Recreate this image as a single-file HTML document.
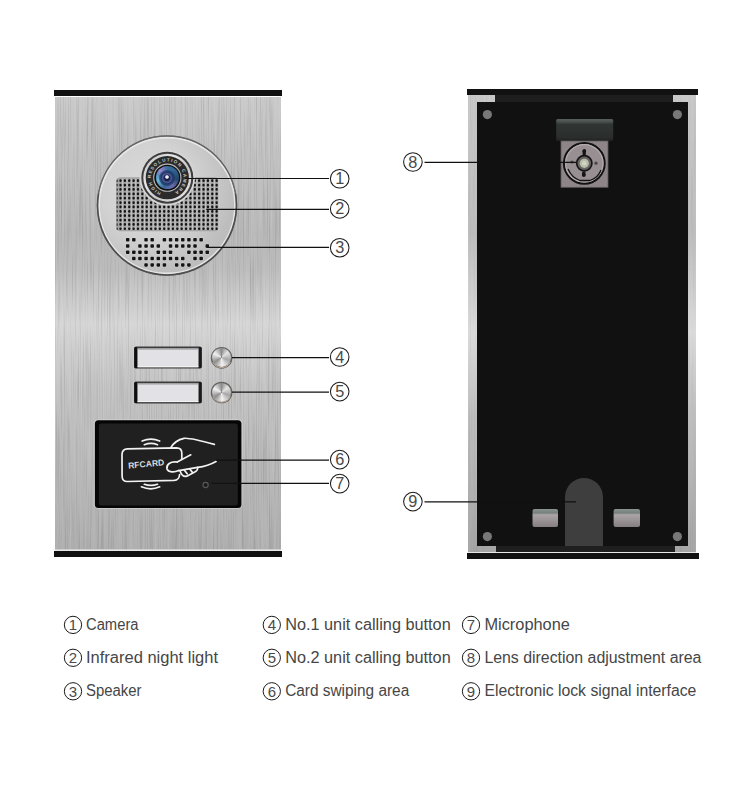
<!DOCTYPE html>
<html><head><meta charset="utf-8">
<style>
html,body{margin:0;padding:0;background:#fff;}
body{width:750px;height:800px;overflow:hidden;position:relative;}
svg{display:block;font-family:"Liberation Sans",sans-serif;position:absolute;left:0;top:0;}
.btn{position:absolute;width:19px;height:19px;border-radius:50%;
 background:conic-gradient(from 0deg,#8c8c8c 0deg,#e4e4e4 50deg,#a6a6a6 110deg,#f2f2f2 175deg,#8e8e8e 235deg,#f0f0f0 300deg,#8c8c8c 360deg);}
.lensr{position:absolute;width:23px;height:23px;border-radius:50%;
 background:conic-gradient(from 0deg,#3a6e9a 0deg,#2f6494 40deg,#24486e 100deg,#6e6cb0 150deg,#3a6898 200deg,#6ab8d8 250deg,#5a90c0 285deg,#9a86d0 315deg,#3a6e9a 360deg);}
.lensc{position:absolute;border-radius:50%;}
</style></head><body>
<svg width="750" height="800" viewBox="0 0 750 800">
<defs>
 <linearGradient id="panel" x1="0" y1="97" x2="0" y2="550" gradientUnits="userSpaceOnUse">
  <stop offset="0" stop-color="#cacaca"/>
  <stop offset="0.12" stop-color="#c2c2c2"/>
  <stop offset="0.30" stop-color="#b8b8b8"/>
  <stop offset="0.38" stop-color="#bcbcbc"/>
  <stop offset="0.50" stop-color="#d6d6d6"/>
  <stop offset="0.64" stop-color="#c3c3c3"/>
  <stop offset="0.78" stop-color="#bababa"/>
  <stop offset="1" stop-color="#afafaf"/>
 </linearGradient>
 <linearGradient id="rearside" x1="0" y1="95" x2="0" y2="552" gradientUnits="userSpaceOnUse">
  <stop offset="0" stop-color="#c8c8c8"/>
  <stop offset="0.3" stop-color="#bcbcbc"/>
  <stop offset="0.52" stop-color="#dadada"/>
  <stop offset="0.7" stop-color="#bdbdbd"/>
  <stop offset="1" stop-color="#a6a6a6"/>
 </linearGradient>
 <radialGradient id="discg" cx="150" cy="190" r="85" gradientUnits="userSpaceOnUse">
  <stop offset="0" stop-color="#dadada"/>
  <stop offset="0.55" stop-color="#d2d2d2"/>
  <stop offset="1" stop-color="#bdbdbd"/>
 </radialGradient>
 <linearGradient id="clip" x1="0" y1="0" x2="0" y2="1">
  <stop offset="0" stop-color="#8a9591"/>
  <stop offset="0.22" stop-color="#75807c"/>
  <stop offset="0.32" stop-color="#aaa4a6"/>
  <stop offset="1" stop-color="#857f82"/>
 </linearGradient>
 <linearGradient id="bracktop" x1="0" y1="0" x2="0" y2="1">
  <stop offset="0" stop-color="#58605e"/>
  <stop offset="0.12" stop-color="#4a514f"/>
  <stop offset="0.25" stop-color="#303534"/>
  <stop offset="0.85" stop-color="#2a2d2c"/>
  <stop offset="1" stop-color="#1e201f"/>
 </linearGradient>
 <linearGradient id="silring" x1="0" y1="0" x2="1" y2="1">
  <stop offset="0" stop-color="#bdbdbd"/>
  <stop offset="0.35" stop-color="#e8e8e8"/>
  <stop offset="0.6" stop-color="#c8c8c8"/>
  <stop offset="1" stop-color="#ededed"/>
 </linearGradient>
 <filter id="brush" x="0" y="0" width="1" height="1" color-interpolation-filters="sRGB">
  <feTurbulence type="fractalNoise" baseFrequency="0.85 0.012" numOctaves="2" seed="3" result="n"/>
  <feColorMatrix in="n" type="matrix" values="0 0 0 0 0  0 0 0 0 0  0 0 0 0 0  0 0 0 -0.3 0.15" result="dark"/>
  <feColorMatrix in="n" type="matrix" values="0 0 0 0 1  0 0 0 0 1  0 0 0 0 1  0 0 0 0.3 -0.15" result="light"/>
  <feMerge><feMergeNode in="dark"/><feMergeNode in="light"/></feMerge>
 </filter>
 <path id="ringpath" d="M 167.3 194.0 A 16.3 16.3 0 1 1 167.31 194.0"/>
</defs>
<rect width="750" height="800" fill="#fff"/>

<!-- FRONT PANEL -->
<rect x="54" y="90" width="228" height="6" fill="#111"/>
<rect x="55" y="97" width="226" height="453" fill="url(#panel)"/>
<rect x="55" y="97" width="226" height="453" filter="url(#brush)" opacity="1"/>
<rect x="55" y="549" width="226" height="1.5" fill="#cfcfcf"/>
<rect x="54" y="551" width="228" height="6" fill="#111"/>

<!-- camera disc -->
<circle cx="167" cy="205.5" r="70.3" fill="#6a6a6a"/>
<circle cx="167" cy="205.5" r="69.2" fill="url(#discg)"/>
<circle cx="167" cy="205.5" r="67.9" fill="none" stroke="#ececec" stroke-width="1.6" opacity="0.85"/><path d="M235.35 193.45 A69.4 69.4 0 1 1 98.65 193.45" fill="none" stroke="#4e4e4e" stroke-width="1.5"/><path d="M98.65 193.45 A69.4 69.4 0 0 1 235.35 193.45" fill="none" stroke="#666" stroke-width="1.1"/>
<rect x="116" y="177.2" width="103" height="54" rx="4.5" fill="#a4a4a4"/><g fill="#e6e6e6" opacity="0.5"><rect x="122.10" y="178.5" width="1.0" height="51.5"/><rect x="126.47" y="178.5" width="1.0" height="51.5"/><rect x="130.84" y="178.5" width="1.0" height="51.5"/><rect x="135.21" y="178.5" width="1.0" height="51.5"/><rect x="139.58" y="178.5" width="1.0" height="51.5"/><rect x="143.95" y="178.5" width="1.0" height="51.5"/><rect x="148.32" y="178.5" width="1.0" height="51.5"/><rect x="152.69" y="178.5" width="1.0" height="51.5"/><rect x="157.06" y="178.5" width="1.0" height="51.5"/><rect x="161.43" y="178.5" width="1.0" height="51.5"/><rect x="165.80" y="178.5" width="1.0" height="51.5"/><rect x="170.17" y="178.5" width="1.0" height="51.5"/><rect x="174.54" y="178.5" width="1.0" height="51.5"/><rect x="178.91" y="178.5" width="1.0" height="51.5"/><rect x="183.28" y="178.5" width="1.0" height="51.5"/><rect x="187.65" y="178.5" width="1.0" height="51.5"/><rect x="192.02" y="178.5" width="1.0" height="51.5"/><rect x="196.39" y="178.5" width="1.0" height="51.5"/><rect x="200.76" y="178.5" width="1.0" height="51.5"/><rect x="205.13" y="178.5" width="1.0" height="51.5"/><rect x="209.50" y="178.5" width="1.0" height="51.5"/><rect x="213.87" y="178.5" width="1.0" height="51.5"/><rect x="218.24" y="178.5" width="1.0" height="51.5"/></g>
<g></g>
<g fill="#151515"><rect x="119.35" y="179.35" width="2.3" height="2.7" rx="1"/><rect x="123.72" y="179.35" width="2.3" height="2.7" rx="1"/><rect x="128.09" y="179.35" width="2.3" height="2.7" rx="1"/><rect x="132.46" y="179.35" width="2.3" height="2.7" rx="1"/><rect x="136.83" y="179.35" width="2.3" height="2.7" rx="1"/><rect x="141.20" y="179.35" width="2.3" height="2.7" rx="1"/><rect x="145.57" y="179.35" width="2.3" height="2.7" rx="1"/><rect x="149.94" y="179.35" width="2.3" height="2.7" rx="1"/><rect x="154.31" y="179.35" width="2.3" height="2.7" rx="1"/><rect x="158.68" y="179.35" width="2.3" height="2.7" rx="1"/><rect x="163.05" y="179.35" width="2.3" height="2.7" rx="1"/><rect x="167.42" y="179.35" width="2.3" height="2.7" rx="1"/><rect x="171.79" y="179.35" width="2.3" height="2.7" rx="1"/><rect x="176.16" y="179.35" width="2.3" height="2.7" rx="1"/><rect x="180.53" y="179.35" width="2.3" height="2.7" rx="1"/><rect x="184.90" y="179.35" width="2.3" height="2.7" rx="1"/><rect x="189.27" y="179.35" width="2.3" height="2.7" rx="1"/><rect x="193.64" y="179.35" width="2.3" height="2.7" rx="1"/><rect x="198.01" y="179.35" width="2.3" height="2.7" rx="1"/><rect x="202.38" y="179.35" width="2.3" height="2.7" rx="1"/><rect x="206.75" y="179.35" width="2.3" height="2.7" rx="1"/><rect x="211.12" y="179.35" width="2.3" height="2.7" rx="1"/><rect x="215.49" y="179.35" width="2.3" height="2.7" rx="1"/><rect x="116.6" y="179.45" width="1.3" height="2.5" rx="0.5" opacity="0.7"/><rect x="119.35" y="183.72" width="2.3" height="2.7" rx="1"/><rect x="123.72" y="183.72" width="2.3" height="2.7" rx="1"/><rect x="128.09" y="183.72" width="2.3" height="2.7" rx="1"/><rect x="132.46" y="183.72" width="2.3" height="2.7" rx="1"/><rect x="136.83" y="183.72" width="2.3" height="2.7" rx="1"/><rect x="141.20" y="183.72" width="2.3" height="2.7" rx="1"/><rect x="145.57" y="183.72" width="2.3" height="2.7" rx="1"/><rect x="149.94" y="183.72" width="2.3" height="2.7" rx="1"/><rect x="154.31" y="183.72" width="2.3" height="2.7" rx="1"/><rect x="158.68" y="183.72" width="2.3" height="2.7" rx="1"/><rect x="163.05" y="183.72" width="2.3" height="2.7" rx="1"/><rect x="167.42" y="183.72" width="2.3" height="2.7" rx="1"/><rect x="171.79" y="183.72" width="2.3" height="2.7" rx="1"/><rect x="176.16" y="183.72" width="2.3" height="2.7" rx="1"/><rect x="180.53" y="183.72" width="2.3" height="2.7" rx="1"/><rect x="184.90" y="183.72" width="2.3" height="2.7" rx="1"/><rect x="189.27" y="183.72" width="2.3" height="2.7" rx="1"/><rect x="193.64" y="183.72" width="2.3" height="2.7" rx="1"/><rect x="198.01" y="183.72" width="2.3" height="2.7" rx="1"/><rect x="202.38" y="183.72" width="2.3" height="2.7" rx="1"/><rect x="206.75" y="183.72" width="2.3" height="2.7" rx="1"/><rect x="211.12" y="183.72" width="2.3" height="2.7" rx="1"/><rect x="215.49" y="183.72" width="2.3" height="2.7" rx="1"/><rect x="116.6" y="183.82" width="1.3" height="2.5" rx="0.5" opacity="0.7"/><rect x="119.35" y="188.09" width="2.3" height="2.7" rx="1"/><rect x="123.72" y="188.09" width="2.3" height="2.7" rx="1"/><rect x="128.09" y="188.09" width="2.3" height="2.7" rx="1"/><rect x="132.46" y="188.09" width="2.3" height="2.7" rx="1"/><rect x="136.83" y="188.09" width="2.3" height="2.7" rx="1"/><rect x="141.20" y="188.09" width="2.3" height="2.7" rx="1"/><rect x="145.57" y="188.09" width="2.3" height="2.7" rx="1"/><rect x="149.94" y="188.09" width="2.3" height="2.7" rx="1"/><rect x="154.31" y="188.09" width="2.3" height="2.7" rx="1"/><rect x="158.68" y="188.09" width="2.3" height="2.7" rx="1"/><rect x="163.05" y="188.09" width="2.3" height="2.7" rx="1"/><rect x="167.42" y="188.09" width="2.3" height="2.7" rx="1"/><rect x="171.79" y="188.09" width="2.3" height="2.7" rx="1"/><rect x="176.16" y="188.09" width="2.3" height="2.7" rx="1"/><rect x="180.53" y="188.09" width="2.3" height="2.7" rx="1"/><rect x="184.90" y="188.09" width="2.3" height="2.7" rx="1"/><rect x="189.27" y="188.09" width="2.3" height="2.7" rx="1"/><rect x="193.64" y="188.09" width="2.3" height="2.7" rx="1"/><rect x="198.01" y="188.09" width="2.3" height="2.7" rx="1"/><rect x="202.38" y="188.09" width="2.3" height="2.7" rx="1"/><rect x="206.75" y="188.09" width="2.3" height="2.7" rx="1"/><rect x="211.12" y="188.09" width="2.3" height="2.7" rx="1"/><rect x="215.49" y="188.09" width="2.3" height="2.7" rx="1"/><rect x="116.6" y="188.19" width="1.3" height="2.5" rx="0.5" opacity="0.7"/><rect x="119.35" y="192.46" width="2.3" height="2.7" rx="1"/><rect x="123.72" y="192.46" width="2.3" height="2.7" rx="1"/><rect x="128.09" y="192.46" width="2.3" height="2.7" rx="1"/><rect x="132.46" y="192.46" width="2.3" height="2.7" rx="1"/><rect x="136.83" y="192.46" width="2.3" height="2.7" rx="1"/><rect x="141.20" y="192.46" width="2.3" height="2.7" rx="1"/><rect x="145.57" y="192.46" width="2.3" height="2.7" rx="1"/><rect x="149.94" y="192.46" width="2.3" height="2.7" rx="1"/><rect x="154.31" y="192.46" width="2.3" height="2.7" rx="1"/><rect x="158.68" y="192.46" width="2.3" height="2.7" rx="1"/><rect x="163.05" y="192.46" width="2.3" height="2.7" rx="1"/><rect x="167.42" y="192.46" width="2.3" height="2.7" rx="1"/><rect x="171.79" y="192.46" width="2.3" height="2.7" rx="1"/><rect x="176.16" y="192.46" width="2.3" height="2.7" rx="1"/><rect x="180.53" y="192.46" width="2.3" height="2.7" rx="1"/><rect x="184.90" y="192.46" width="2.3" height="2.7" rx="1"/><rect x="189.27" y="192.46" width="2.3" height="2.7" rx="1"/><rect x="193.64" y="192.46" width="2.3" height="2.7" rx="1"/><rect x="198.01" y="192.46" width="2.3" height="2.7" rx="1"/><rect x="202.38" y="192.46" width="2.3" height="2.7" rx="1"/><rect x="206.75" y="192.46" width="2.3" height="2.7" rx="1"/><rect x="211.12" y="192.46" width="2.3" height="2.7" rx="1"/><rect x="215.49" y="192.46" width="2.3" height="2.7" rx="1"/><rect x="116.6" y="192.56" width="1.3" height="2.5" rx="0.5" opacity="0.7"/><rect x="119.35" y="196.83" width="2.3" height="2.7" rx="1"/><rect x="123.72" y="196.83" width="2.3" height="2.7" rx="1"/><rect x="128.09" y="196.83" width="2.3" height="2.7" rx="1"/><rect x="132.46" y="196.83" width="2.3" height="2.7" rx="1"/><rect x="136.83" y="196.83" width="2.3" height="2.7" rx="1"/><rect x="141.20" y="196.83" width="2.3" height="2.7" rx="1"/><rect x="145.57" y="196.83" width="2.3" height="2.7" rx="1"/><rect x="149.94" y="196.83" width="2.3" height="2.7" rx="1"/><rect x="154.31" y="196.83" width="2.3" height="2.7" rx="1"/><rect x="158.68" y="196.83" width="2.3" height="2.7" rx="1"/><rect x="163.05" y="196.83" width="2.3" height="2.7" rx="1"/><rect x="167.42" y="196.83" width="2.3" height="2.7" rx="1"/><rect x="171.79" y="196.83" width="2.3" height="2.7" rx="1"/><rect x="176.16" y="196.83" width="2.3" height="2.7" rx="1"/><rect x="180.53" y="196.83" width="2.3" height="2.7" rx="1"/><rect x="184.90" y="196.83" width="2.3" height="2.7" rx="1"/><rect x="189.27" y="196.83" width="2.3" height="2.7" rx="1"/><rect x="193.64" y="196.83" width="2.3" height="2.7" rx="1"/><rect x="198.01" y="196.83" width="2.3" height="2.7" rx="1"/><rect x="202.38" y="196.83" width="2.3" height="2.7" rx="1"/><rect x="206.75" y="196.83" width="2.3" height="2.7" rx="1"/><rect x="211.12" y="196.83" width="2.3" height="2.7" rx="1"/><rect x="215.49" y="196.83" width="2.3" height="2.7" rx="1"/><rect x="116.6" y="196.93" width="1.3" height="2.5" rx="0.5" opacity="0.7"/><rect x="119.35" y="201.20" width="2.3" height="2.7" rx="1"/><rect x="123.72" y="201.20" width="2.3" height="2.7" rx="1"/><rect x="128.09" y="201.20" width="2.3" height="2.7" rx="1"/><rect x="132.46" y="201.20" width="2.3" height="2.7" rx="1"/><rect x="136.83" y="201.20" width="2.3" height="2.7" rx="1"/><rect x="141.20" y="201.20" width="2.3" height="2.7" rx="1"/><rect x="145.57" y="201.20" width="2.3" height="2.7" rx="1"/><rect x="149.94" y="201.20" width="2.3" height="2.7" rx="1"/><rect x="154.31" y="201.20" width="2.3" height="2.7" rx="1"/><rect x="158.68" y="201.20" width="2.3" height="2.7" rx="1"/><rect x="163.05" y="201.20" width="2.3" height="2.7" rx="1"/><rect x="167.42" y="201.20" width="2.3" height="2.7" rx="1"/><rect x="171.79" y="201.20" width="2.3" height="2.7" rx="1"/><rect x="176.16" y="201.20" width="2.3" height="2.7" rx="1"/><rect x="180.53" y="201.20" width="2.3" height="2.7" rx="1"/><rect x="184.90" y="201.20" width="2.3" height="2.7" rx="1"/><rect x="189.27" y="201.20" width="2.3" height="2.7" rx="1"/><rect x="193.64" y="201.20" width="2.3" height="2.7" rx="1"/><rect x="198.01" y="201.20" width="2.3" height="2.7" rx="1"/><rect x="202.38" y="201.20" width="2.3" height="2.7" rx="1"/><rect x="206.75" y="201.20" width="2.3" height="2.7" rx="1"/><rect x="211.12" y="201.20" width="2.3" height="2.7" rx="1"/><rect x="215.49" y="201.20" width="2.3" height="2.7" rx="1"/><rect x="116.6" y="201.30" width="1.3" height="2.5" rx="0.5" opacity="0.7"/><rect x="119.35" y="205.57" width="2.3" height="2.7" rx="1"/><rect x="123.72" y="205.57" width="2.3" height="2.7" rx="1"/><rect x="128.09" y="205.57" width="2.3" height="2.7" rx="1"/><rect x="132.46" y="205.57" width="2.3" height="2.7" rx="1"/><rect x="136.83" y="205.57" width="2.3" height="2.7" rx="1"/><rect x="141.20" y="205.57" width="2.3" height="2.7" rx="1"/><rect x="145.57" y="205.57" width="2.3" height="2.7" rx="1"/><rect x="149.94" y="205.57" width="2.3" height="2.7" rx="1"/><rect x="154.31" y="205.57" width="2.3" height="2.7" rx="1"/><rect x="158.68" y="205.57" width="2.3" height="2.7" rx="1"/><rect x="163.05" y="205.57" width="2.3" height="2.7" rx="1"/><rect x="167.42" y="205.57" width="2.3" height="2.7" rx="1"/><rect x="171.79" y="205.57" width="2.3" height="2.7" rx="1"/><rect x="176.16" y="205.57" width="2.3" height="2.7" rx="1"/><rect x="180.53" y="205.57" width="2.3" height="2.7" rx="1"/><rect x="184.90" y="205.57" width="2.3" height="2.7" rx="1"/><rect x="189.27" y="205.57" width="2.3" height="2.7" rx="1"/><rect x="193.64" y="205.57" width="2.3" height="2.7" rx="1"/><rect x="198.01" y="205.57" width="2.3" height="2.7" rx="1"/><rect x="202.38" y="205.57" width="2.3" height="2.7" rx="1"/><rect x="206.75" y="205.57" width="2.3" height="2.7" rx="1"/><rect x="211.12" y="205.57" width="2.3" height="2.7" rx="1"/><rect x="215.49" y="205.57" width="2.3" height="2.7" rx="1"/><rect x="116.6" y="205.67" width="1.3" height="2.5" rx="0.5" opacity="0.7"/><rect x="119.35" y="209.94" width="2.3" height="2.7" rx="1"/><rect x="123.72" y="209.94" width="2.3" height="2.7" rx="1"/><rect x="128.09" y="209.94" width="2.3" height="2.7" rx="1"/><rect x="132.46" y="209.94" width="2.3" height="2.7" rx="1"/><rect x="136.83" y="209.94" width="2.3" height="2.7" rx="1"/><rect x="141.20" y="209.94" width="2.3" height="2.7" rx="1"/><rect x="145.57" y="209.94" width="2.3" height="2.7" rx="1"/><rect x="149.94" y="209.94" width="2.3" height="2.7" rx="1"/><rect x="154.31" y="209.94" width="2.3" height="2.7" rx="1"/><rect x="158.68" y="209.94" width="2.3" height="2.7" rx="1"/><rect x="163.05" y="209.94" width="2.3" height="2.7" rx="1"/><rect x="167.42" y="209.94" width="2.3" height="2.7" rx="1"/><rect x="171.79" y="209.94" width="2.3" height="2.7" rx="1"/><rect x="176.16" y="209.94" width="2.3" height="2.7" rx="1"/><rect x="180.53" y="209.94" width="2.3" height="2.7" rx="1"/><rect x="184.90" y="209.94" width="2.3" height="2.7" rx="1"/><rect x="189.27" y="209.94" width="2.3" height="2.7" rx="1"/><rect x="193.64" y="209.94" width="2.3" height="2.7" rx="1"/><rect x="198.01" y="209.94" width="2.3" height="2.7" rx="1"/><rect x="202.38" y="209.94" width="2.3" height="2.7" rx="1"/><rect x="206.75" y="209.94" width="2.3" height="2.7" rx="1"/><rect x="211.12" y="209.94" width="2.3" height="2.7" rx="1"/><rect x="215.49" y="209.94" width="2.3" height="2.7" rx="1"/><rect x="116.6" y="210.04" width="1.3" height="2.5" rx="0.5" opacity="0.7"/><rect x="119.35" y="214.31" width="2.3" height="2.7" rx="1"/><rect x="123.72" y="214.31" width="2.3" height="2.7" rx="1"/><rect x="128.09" y="214.31" width="2.3" height="2.7" rx="1"/><rect x="132.46" y="214.31" width="2.3" height="2.7" rx="1"/><rect x="136.83" y="214.31" width="2.3" height="2.7" rx="1"/><rect x="141.20" y="214.31" width="2.3" height="2.7" rx="1"/><rect x="145.57" y="214.31" width="2.3" height="2.7" rx="1"/><rect x="149.94" y="214.31" width="2.3" height="2.7" rx="1"/><rect x="154.31" y="214.31" width="2.3" height="2.7" rx="1"/><rect x="158.68" y="214.31" width="2.3" height="2.7" rx="1"/><rect x="163.05" y="214.31" width="2.3" height="2.7" rx="1"/><rect x="167.42" y="214.31" width="2.3" height="2.7" rx="1"/><rect x="171.79" y="214.31" width="2.3" height="2.7" rx="1"/><rect x="176.16" y="214.31" width="2.3" height="2.7" rx="1"/><rect x="180.53" y="214.31" width="2.3" height="2.7" rx="1"/><rect x="184.90" y="214.31" width="2.3" height="2.7" rx="1"/><rect x="189.27" y="214.31" width="2.3" height="2.7" rx="1"/><rect x="193.64" y="214.31" width="2.3" height="2.7" rx="1"/><rect x="198.01" y="214.31" width="2.3" height="2.7" rx="1"/><rect x="202.38" y="214.31" width="2.3" height="2.7" rx="1"/><rect x="206.75" y="214.31" width="2.3" height="2.7" rx="1"/><rect x="211.12" y="214.31" width="2.3" height="2.7" rx="1"/><rect x="215.49" y="214.31" width="2.3" height="2.7" rx="1"/><rect x="116.6" y="214.41" width="1.3" height="2.5" rx="0.5" opacity="0.7"/><rect x="119.35" y="218.68" width="2.3" height="2.7" rx="1"/><rect x="123.72" y="218.68" width="2.3" height="2.7" rx="1"/><rect x="128.09" y="218.68" width="2.3" height="2.7" rx="1"/><rect x="132.46" y="218.68" width="2.3" height="2.7" rx="1"/><rect x="136.83" y="218.68" width="2.3" height="2.7" rx="1"/><rect x="141.20" y="218.68" width="2.3" height="2.7" rx="1"/><rect x="145.57" y="218.68" width="2.3" height="2.7" rx="1"/><rect x="149.94" y="218.68" width="2.3" height="2.7" rx="1"/><rect x="154.31" y="218.68" width="2.3" height="2.7" rx="1"/><rect x="158.68" y="218.68" width="2.3" height="2.7" rx="1"/><rect x="163.05" y="218.68" width="2.3" height="2.7" rx="1"/><rect x="167.42" y="218.68" width="2.3" height="2.7" rx="1"/><rect x="171.79" y="218.68" width="2.3" height="2.7" rx="1"/><rect x="176.16" y="218.68" width="2.3" height="2.7" rx="1"/><rect x="180.53" y="218.68" width="2.3" height="2.7" rx="1"/><rect x="184.90" y="218.68" width="2.3" height="2.7" rx="1"/><rect x="189.27" y="218.68" width="2.3" height="2.7" rx="1"/><rect x="193.64" y="218.68" width="2.3" height="2.7" rx="1"/><rect x="198.01" y="218.68" width="2.3" height="2.7" rx="1"/><rect x="202.38" y="218.68" width="2.3" height="2.7" rx="1"/><rect x="206.75" y="218.68" width="2.3" height="2.7" rx="1"/><rect x="211.12" y="218.68" width="2.3" height="2.7" rx="1"/><rect x="215.49" y="218.68" width="2.3" height="2.7" rx="1"/><rect x="116.6" y="218.78" width="1.3" height="2.5" rx="0.5" opacity="0.7"/><rect x="119.35" y="223.05" width="2.3" height="2.7" rx="1"/><rect x="123.72" y="223.05" width="2.3" height="2.7" rx="1"/><rect x="128.09" y="223.05" width="2.3" height="2.7" rx="1"/><rect x="132.46" y="223.05" width="2.3" height="2.7" rx="1"/><rect x="136.83" y="223.05" width="2.3" height="2.7" rx="1"/><rect x="141.20" y="223.05" width="2.3" height="2.7" rx="1"/><rect x="145.57" y="223.05" width="2.3" height="2.7" rx="1"/><rect x="149.94" y="223.05" width="2.3" height="2.7" rx="1"/><rect x="154.31" y="223.05" width="2.3" height="2.7" rx="1"/><rect x="158.68" y="223.05" width="2.3" height="2.7" rx="1"/><rect x="163.05" y="223.05" width="2.3" height="2.7" rx="1"/><rect x="167.42" y="223.05" width="2.3" height="2.7" rx="1"/><rect x="171.79" y="223.05" width="2.3" height="2.7" rx="1"/><rect x="176.16" y="223.05" width="2.3" height="2.7" rx="1"/><rect x="180.53" y="223.05" width="2.3" height="2.7" rx="1"/><rect x="184.90" y="223.05" width="2.3" height="2.7" rx="1"/><rect x="189.27" y="223.05" width="2.3" height="2.7" rx="1"/><rect x="193.64" y="223.05" width="2.3" height="2.7" rx="1"/><rect x="198.01" y="223.05" width="2.3" height="2.7" rx="1"/><rect x="202.38" y="223.05" width="2.3" height="2.7" rx="1"/><rect x="206.75" y="223.05" width="2.3" height="2.7" rx="1"/><rect x="211.12" y="223.05" width="2.3" height="2.7" rx="1"/><rect x="215.49" y="223.05" width="2.3" height="2.7" rx="1"/><rect x="116.6" y="223.15" width="1.3" height="2.5" rx="0.5" opacity="0.7"/><rect x="119.35" y="227.42" width="2.3" height="2.7" rx="1"/><rect x="123.72" y="227.42" width="2.3" height="2.7" rx="1"/><rect x="128.09" y="227.42" width="2.3" height="2.7" rx="1"/><rect x="132.46" y="227.42" width="2.3" height="2.7" rx="1"/><rect x="136.83" y="227.42" width="2.3" height="2.7" rx="1"/><rect x="141.20" y="227.42" width="2.3" height="2.7" rx="1"/><rect x="145.57" y="227.42" width="2.3" height="2.7" rx="1"/><rect x="149.94" y="227.42" width="2.3" height="2.7" rx="1"/><rect x="154.31" y="227.42" width="2.3" height="2.7" rx="1"/><rect x="158.68" y="227.42" width="2.3" height="2.7" rx="1"/><rect x="163.05" y="227.42" width="2.3" height="2.7" rx="1"/><rect x="167.42" y="227.42" width="2.3" height="2.7" rx="1"/><rect x="171.79" y="227.42" width="2.3" height="2.7" rx="1"/><rect x="176.16" y="227.42" width="2.3" height="2.7" rx="1"/><rect x="180.53" y="227.42" width="2.3" height="2.7" rx="1"/><rect x="184.90" y="227.42" width="2.3" height="2.7" rx="1"/><rect x="189.27" y="227.42" width="2.3" height="2.7" rx="1"/><rect x="193.64" y="227.42" width="2.3" height="2.7" rx="1"/><rect x="198.01" y="227.42" width="2.3" height="2.7" rx="1"/><rect x="202.38" y="227.42" width="2.3" height="2.7" rx="1"/><rect x="206.75" y="227.42" width="2.3" height="2.7" rx="1"/><rect x="211.12" y="227.42" width="2.3" height="2.7" rx="1"/><rect x="215.49" y="227.42" width="2.3" height="2.7" rx="1"/><rect x="116.6" y="227.52" width="1.3" height="2.5" rx="0.5" opacity="0.7"/></g>
<g fill="#141414" stroke="#f2f2f2" stroke-width="0.8" stroke-opacity="0.55" paint-order="stroke"><rect x="125.95" y="237.95" width="3.5" height="3.5" rx="0.8"/><rect x="132.07" y="237.95" width="3.5" height="3.5" rx="0.8"/><rect x="144.31" y="237.95" width="3.5" height="3.5" rx="0.8"/><rect x="150.43" y="237.95" width="3.5" height="3.5" rx="0.8"/><rect x="162.67" y="237.95" width="3.5" height="3.5" rx="0.8"/><rect x="168.79" y="237.95" width="3.5" height="3.5" rx="0.8"/><rect x="174.91" y="237.95" width="3.5" height="3.5" rx="0.8"/><rect x="181.03" y="237.95" width="3.5" height="3.5" rx="0.8"/><rect x="187.15" y="237.95" width="3.5" height="3.5" rx="0.8"/><rect x="193.27" y="237.95" width="3.5" height="3.5" rx="0.8"/><rect x="199.39" y="237.95" width="3.5" height="3.5" rx="0.8"/><rect x="125.95" y="244.25" width="3.5" height="3.5" rx="0.8"/><rect x="138.19" y="244.25" width="3.5" height="3.5" rx="0.8"/><rect x="144.31" y="244.25" width="3.5" height="3.5" rx="0.8"/><rect x="150.43" y="244.25" width="3.5" height="3.5" rx="0.8"/><rect x="156.55" y="244.25" width="3.5" height="3.5" rx="0.8"/><rect x="168.79" y="244.25" width="3.5" height="3.5" rx="0.8"/><rect x="174.91" y="244.25" width="3.5" height="3.5" rx="0.8"/><rect x="181.03" y="244.25" width="3.5" height="3.5" rx="0.8"/><rect x="187.15" y="244.25" width="3.5" height="3.5" rx="0.8"/><rect x="193.27" y="244.25" width="3.5" height="3.5" rx="0.8"/><rect x="205.51" y="244.25" width="3.5" height="3.5" rx="0.8"/><rect x="125.95" y="250.55" width="3.5" height="3.5" rx="0.8"/><rect x="132.07" y="250.55" width="3.5" height="3.5" rx="0.8"/><rect x="138.19" y="250.55" width="3.5" height="3.5" rx="0.8"/><rect x="144.31" y="250.55" width="3.5" height="3.5" rx="0.8"/><rect x="156.55" y="250.55" width="3.5" height="3.5" rx="0.8"/><rect x="162.67" y="250.55" width="3.5" height="3.5" rx="0.8"/><rect x="168.79" y="250.55" width="3.5" height="3.5" rx="0.8"/><rect x="187.15" y="250.55" width="3.5" height="3.5" rx="0.8"/><rect x="193.27" y="250.55" width="3.5" height="3.5" rx="0.8"/><rect x="199.39" y="250.55" width="3.5" height="3.5" rx="0.8"/><rect x="205.51" y="250.55" width="3.5" height="3.5" rx="0.8"/><rect x="132.07" y="256.85" width="3.5" height="3.5" rx="0.8"/><rect x="138.19" y="256.85" width="3.5" height="3.5" rx="0.8"/><rect x="144.31" y="256.85" width="3.5" height="3.5" rx="0.8"/><rect x="150.43" y="256.85" width="3.5" height="3.5" rx="0.8"/><rect x="156.55" y="256.85" width="3.5" height="3.5" rx="0.8"/><rect x="162.67" y="256.85" width="3.5" height="3.5" rx="0.8"/><rect x="168.79" y="256.85" width="3.5" height="3.5" rx="0.8"/><rect x="174.91" y="256.85" width="3.5" height="3.5" rx="0.8"/><rect x="181.03" y="256.85" width="3.5" height="3.5" rx="0.8"/><rect x="193.27" y="256.85" width="3.5" height="3.5" rx="0.8"/><rect x="199.39" y="256.85" width="3.5" height="3.5" rx="0.8"/><rect x="144.31" y="263.15" width="3.5" height="3.5" rx="0.8"/><rect x="150.43" y="263.15" width="3.5" height="3.5" rx="0.8"/><rect x="156.55" y="263.15" width="3.5" height="3.5" rx="0.8"/><rect x="162.67" y="263.15" width="3.5" height="3.5" rx="0.8"/><rect x="174.91" y="263.15" width="3.5" height="3.5" rx="0.8"/><rect x="181.03" y="263.15" width="3.5" height="3.5" rx="0.8"/><rect x="187.15" y="263.15" width="3.5" height="3.5" rx="0.8"/></g>

<!-- lens housing -->

<circle cx="167.3" cy="177.7" r="27.8" fill="#d6d6d6"/>
<circle cx="167.3" cy="177.7" r="26" fill="#3e3e3e"/>
<circle cx="167.3" cy="177.7" r="24" fill="url(#silring)"/>
<circle cx="167.3" cy="177.7" r="21.6" fill="#2b2b2b"/>
<text font-size="4.5" font-weight="bold" fill="#cacaca" letter-spacing="1.15"><textPath href="#ringpath" startOffset="6.5">HIGH RESOLUTION CAMERA</textPath></text>
<circle cx="167.3" cy="177.7" r="13.6" fill="#101010" stroke="#b8b8b8" stroke-width="1.1"/>
</svg>

<div class="lensr" style="left:155.8px;top:166.2px;"></div>
<div class="lensc" style="left:159.3px;top:169.7px;width:16px;height:16px;background:radial-gradient(circle at 50% 50%,#0e1830 0,#16284a 25%,#5a5aa0 38%,#1e3a66 50%,rgba(25,50,90,0.55) 72%,rgba(30,60,100,0) 100%);"></div>
<div class="lensc" style="left:165.3px;top:175.2px;width:3.6px;height:3.6px;background:radial-gradient(circle,#fff 0,#e8e0ff 45%,rgba(200,190,255,0) 100%);"></div>

<svg width="750" height="800" viewBox="0 0 750 800" style="pointer-events:none">
<!-- name plates -->
<g>
 <rect x="134.1" y="346.6" width="67.7" height="22" rx="2" fill="#3c3c3c"/>
 <rect x="134.3" y="347" width="3.2" height="21.2" rx="1.5" fill="#0e0e0e"/>
 <rect x="198.4" y="347" width="3.2" height="21.2" rx="1.5" fill="#1a1a1a"/>
 <rect x="137.5" y="348.2" width="61" height="19" rx="1" fill="#e2e1e6"/>
 <rect x="137.5" y="348.2" width="61" height="1.4" fill="#9a9a9c"/>
 <rect x="137.5" y="366.2" width="61" height="1" fill="#f6f6f6"/>
</g>
<g transform="translate(0 34.9)">
 <rect x="134.1" y="346.6" width="67.7" height="22" rx="2" fill="#3c3c3c"/>
 <rect x="134.3" y="347" width="3.2" height="21.2" rx="1.5" fill="#0e0e0e"/>
 <rect x="198.4" y="347" width="3.2" height="21.2" rx="1.5" fill="#1a1a1a"/>
 <rect x="137.5" y="348.2" width="61" height="19" rx="1" fill="#e2e1e6"/>
 <rect x="137.5" y="348.2" width="61" height="1.4" fill="#9a9a9c"/>
 <rect x="137.5" y="366.2" width="61" height="1" fill="#f6f6f6"/>
</g>
<!-- button rims -->
<circle cx="221.6" cy="357.9" r="10.8" fill="#67635f"/>
<circle cx="221.6" cy="392.5" r="10.8" fill="#67635f"/>
</svg>
<div class="btn" style="left:212.1px;top:348.4px;"></div>
<div class="btn" style="left:212.1px;top:383px;"></div>
<svg width="750" height="800" viewBox="0 0 750 800"><path d="M230.39 362.00 A9.7 9.7 0 0 1 212.81 362.00" fill="none" stroke="#c4b2a0" stroke-width="1" opacity="0.9"/><path d="M230.39 396.60 A9.7 9.7 0 0 1 212.81 396.60" fill="none" stroke="#c4b2a0" stroke-width="1" opacity="0.9"/></svg>

<svg width="750" height="800" viewBox="0 0 750 800">
<!-- RFID -->
<rect x="94.2" y="419.8" width="147.8" height="88.5" rx="4" fill="none" stroke="#d6d6d6" stroke-width="1" opacity="0.8"/>
<rect x="94.9" y="420.3" width="146.5" height="87.6" rx="3.5" fill="#050505"/>
<rect x="98.8" y="423.5" width="139" height="82" rx="2.5" fill="#202020"/>
<g fill="none" stroke="#f2f2f2" stroke-width="1.7" stroke-linecap="round" stroke-linejoin="round">
 <path d="M181.8 459 L181.8 453 Q181.8 447.8 176.5 447.8 L127.5 448.9 Q122.1 449.1 122 454.4 L122.1 476.3 Q122.2 481.6 127.5 481.5 L174 480.4 Q179.3 480.1 179.6 474.5"/>
 <path d="M170.8 447.6 Q175 440.2 184 438.3 Q190 437.6 214.4 444.4"/>
 <path d="M190.8 454.8 L177.2 462"/>
 <path d="M177.2 462 C170.5 461 166 464.5 167 469 C168.2 472.6 174.5 472.6 178.6 470.6"/>
 <path d="M178.6 470.6 L197.6 467.4 Q208 466 216 461.4"/>
 <path d="M180.2 471.2 Q182.2 477.3 186.8 476.2 L194.3 472.3 Q198.3 469.8 197.6 467.4"/>
 <path d="M184.2 469.9 L187.2 473.8"/>
 <path d="M189.6 468.8 L192.6 472.6"/>
 <path d="M142.1 441 Q151 437.3 159.7 441"/>
 <path d="M144.3 444.7 Q151 442.2 157.5 444.7"/>
 <path d="M144.3 484.3 Q151 486.6 157.5 484.3"/>
 <path d="M141.4 486.8 Q151 490.8 159.7 486.8"/>
</g>
<text x="146.2" y="467" font-size="8.6" font-weight="bold" fill="#dadada" text-anchor="middle" transform="rotate(-5.5 146 464)">RFCARD</text>
<circle cx="205.6" cy="485" r="2.6" fill="#1a1a1a" stroke="#5a5a5a" stroke-width="1.1"/>

<!-- REAR PANEL -->
<rect x="467" y="89" width="231" height="6" fill="#111"/>
<rect x="468" y="95" width="228" height="457" fill="url(#rearside)"/>
<rect x="468" y="95" width="228" height="457" filter="url(#brush)" opacity="0.4"/>
<rect x="495" y="95" width="178" height="7" fill="#1e1e1e"/>
<rect x="496" y="546" width="179" height="6" fill="#1f1f1f"/>
<rect x="477" y="102" width="211" height="444" fill="#111"/>
<rect x="468" y="552" width="228" height="1" fill="#e8e8e8"/>
<rect x="467" y="553" width="232" height="6" fill="#111"/>
<g fill="#787878">
 <circle cx="487.4" cy="114.6" r="4.6"/><circle cx="677.4" cy="114.6" r="4.6"/>
 <circle cx="487.4" cy="536.6" r="4.6"/><circle cx="677.4" cy="536.6" r="4.6"/>
</g>
<!-- bracket -->
<rect x="556.2" y="119" width="57" height="22" rx="1.5" fill="url(#bracktop)"/>
<rect x="561" y="141" width="47" height="46.3" fill="#8d8588"/>
<rect x="561" y="141" width="47" height="46.3" fill="none" stroke="#5d5759" stroke-width="0.8"/>
<circle cx="584.3" cy="163.3" r="20.4" fill="none" stroke="#121212" stroke-width="2"/>
<circle cx="584.3" cy="163.3" r="18.7" fill="#978f92" stroke="#b3abae" stroke-width="1.2"/>
<path d="M568 169 Q572 178 580 180.5 L590 180.5 Q598 178 601 170" fill="none" stroke="#141414" stroke-width="1.3"/>
<g fill="#141414">
 <circle cx="584.3" cy="151" r="1.9"/><circle cx="583.8" cy="175" r="1.9"/>
 <rect x="582.6" y="151" width="3.2" height="4"/><rect x="582.2" y="171.5" width="3.2" height="4"/>
</g>
<g fill="#4a4446"><circle cx="572" cy="162" r="1.6"/><circle cx="596" cy="163.2" r="1.6"/></g>
<circle cx="584.3" cy="163.3" r="7.6" fill="#6a6466" stroke="#161616" stroke-width="1.7"/>
<circle cx="584.3" cy="163.3" r="4.6" fill="#b9bdaa"/>
<circle cx="584.3" cy="163.3" r="2.2" fill="#d0d4c0"/>
<!-- arch -->
<path d="M565 546 L565 497 A19 19 0 0 1 603 497 L603 546 Z" fill="#3e3e3e"/>
<rect x="532.5" y="509" width="25.5" height="18" rx="2" fill="url(#clip)"/>
<rect x="613.6" y="509" width="26.4" height="18" rx="2" fill="url(#clip)"/>

<!-- LEADER LINES -->
<g stroke="#111" stroke-width="1.2">
 <line x1="185.7" y1="178.5" x2="329" y2="178.5"/>
 <line x1="206.2" y1="209.4" x2="329" y2="209.4"/>
 <line x1="206.7" y1="247.4" x2="329" y2="247.4"/>
 <line x1="232" y1="357.6" x2="329" y2="357.6"/>
 <line x1="232" y1="392.2" x2="329" y2="392.2"/>
 <line x1="215.8" y1="460.2" x2="329" y2="460.2"/>
 <line x1="211.6" y1="483.4" x2="329" y2="483.4"/>
 <line x1="424.5" y1="162.4" x2="576.5" y2="162.4"/>
 <line x1="424.5" y1="501.8" x2="576" y2="501.8"/>
</g>
<circle cx="339.7" cy="178.7" r="9.3" fill="none" stroke="#1c1c1c" stroke-width="1.05"/><text x="339.7" y="184.20" font-size="16.3" text-anchor="middle" fill="#4a4a4a">1</text>
<circle cx="339.7" cy="208.9" r="9.3" fill="none" stroke="#1c1c1c" stroke-width="1.05"/><text x="339.7" y="214.40" font-size="16.3" text-anchor="middle" fill="#4a4a4a">2</text>
<circle cx="339.7" cy="247.7" r="9.3" fill="none" stroke="#1c1c1c" stroke-width="1.05"/><text x="339.7" y="253.20" font-size="16.3" text-anchor="middle" fill="#4a4a4a">3</text>
<circle cx="339.7" cy="357" r="9.3" fill="none" stroke="#1c1c1c" stroke-width="1.05"/><text x="339.7" y="362.50" font-size="16.3" text-anchor="middle" fill="#4a4a4a">4</text>
<circle cx="339.7" cy="391.6" r="9.3" fill="none" stroke="#1c1c1c" stroke-width="1.05"/><text x="339.7" y="397.10" font-size="16.3" text-anchor="middle" fill="#4a4a4a">5</text>
<circle cx="339.7" cy="459.6" r="9.3" fill="none" stroke="#1c1c1c" stroke-width="1.05"/><text x="339.7" y="465.10" font-size="16.3" text-anchor="middle" fill="#4a4a4a">6</text>
<circle cx="339.7" cy="483.6" r="9.3" fill="none" stroke="#1c1c1c" stroke-width="1.05"/><text x="339.7" y="489.10" font-size="16.3" text-anchor="middle" fill="#4a4a4a">7</text>
<circle cx="412.9" cy="162" r="9.3" fill="none" stroke="#1c1c1c" stroke-width="1.05"/><text x="412.9" y="167.50" font-size="16.3" text-anchor="middle" fill="#4a4a4a">8</text>
<circle cx="412.9" cy="501.6" r="9.3" fill="none" stroke="#1c1c1c" stroke-width="1.05"/><text x="412.9" y="507.10" font-size="16.3" text-anchor="middle" fill="#4a4a4a">9</text>

<!-- LEGEND -->
<g font-size="16" fill="#464646">
 <circle cx="73" cy="624.9" r="8.65" fill="none" stroke="#1c1c1c" stroke-width="1.0"/><text x="73" y="630.10" font-size="15" text-anchor="middle" fill="#4a4a4a">1</text><text x="86" y="630" textLength="52.5" lengthAdjust="spacingAndGlyphs">Camera</text>
 <circle cx="73" cy="657.8" r="8.65" fill="none" stroke="#1c1c1c" stroke-width="1.0"/><text x="73" y="663.00" font-size="15" text-anchor="middle" fill="#4a4a4a">2</text><text x="86" y="663" textLength="132" lengthAdjust="spacingAndGlyphs">Infrared night light</text>
 <circle cx="73" cy="691.3" r="8.65" fill="none" stroke="#1c1c1c" stroke-width="1.0"/><text x="73" y="696.50" font-size="15" text-anchor="middle" fill="#4a4a4a">3</text><text x="86" y="696" textLength="55.5" lengthAdjust="spacingAndGlyphs">Speaker</text>
 <circle cx="271.8" cy="624.9" r="8.65" fill="none" stroke="#1c1c1c" stroke-width="1.0"/><text x="271.8" y="630.10" font-size="15" text-anchor="middle" fill="#4a4a4a">4</text><text x="285.2" y="630" textLength="165.5" lengthAdjust="spacingAndGlyphs">No.1 unit calling button</text>
 <circle cx="271.8" cy="657.8" r="8.65" fill="none" stroke="#1c1c1c" stroke-width="1.0"/><text x="271.8" y="663.00" font-size="15" text-anchor="middle" fill="#4a4a4a">5</text><text x="285.2" y="663" textLength="165.5" lengthAdjust="spacingAndGlyphs">No.2 unit calling button</text>
 <circle cx="271.8" cy="691.3" r="8.65" fill="none" stroke="#1c1c1c" stroke-width="1.0"/><text x="271.8" y="696.50" font-size="15" text-anchor="middle" fill="#4a4a4a">6</text><text x="285.2" y="696" textLength="124" lengthAdjust="spacingAndGlyphs">Card swiping area</text>
 <circle cx="471" cy="624.9" r="8.65" fill="none" stroke="#1c1c1c" stroke-width="1.0"/><text x="471" y="630.10" font-size="15" text-anchor="middle" fill="#4a4a4a">7</text><text x="484.4" y="630" textLength="85.5" lengthAdjust="spacingAndGlyphs">Microphone</text>
 <circle cx="471" cy="657.8" r="8.65" fill="none" stroke="#1c1c1c" stroke-width="1.0"/><text x="471" y="663.00" font-size="15" text-anchor="middle" fill="#4a4a4a">8</text><text x="484.4" y="663" textLength="217" lengthAdjust="spacingAndGlyphs">Lens direction adjustment area</text>
 <circle cx="471" cy="691.3" r="8.65" fill="none" stroke="#1c1c1c" stroke-width="1.0"/><text x="471" y="696.50" font-size="15" text-anchor="middle" fill="#4a4a4a">9</text><text x="484.4" y="696" textLength="212" lengthAdjust="spacingAndGlyphs">Electronic lock signal interface</text>
</g>
</svg>
</body></html>
